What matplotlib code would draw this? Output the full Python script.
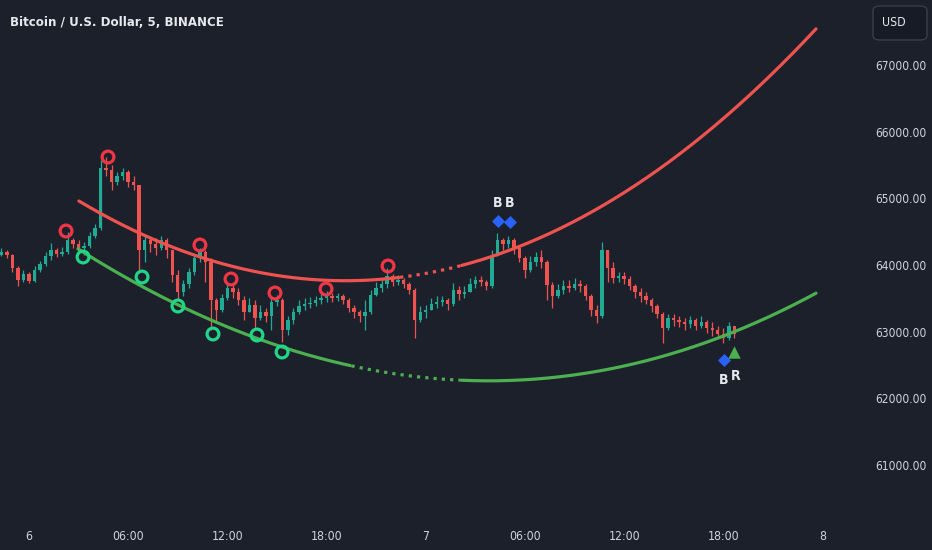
import matplotlib
matplotlib.use("Agg")
import matplotlib.pyplot as plt
from matplotlib import font_manager
from matplotlib.patches import FancyBboxPatch
import numpy as np

# ---------------- data ----------------
bar_start_hour = -5 / 3          # first candle time, hours from day-6 00:00
bar_hours = 20 / 60              # candle interval
first_open = 64150
closes = [64195, 64150, 63955, 63775, 63865, 63760, 63925, 64015, 64135, 64225,
          64165, 64195, 64375, 64315, 64255, 64285, 64435, 64555, 65455, 65425,
          65245, 65335, 65395, 65245, 65200, 64225, 64375, 64315, 64255, 64375,
          64225, 63850, 63595, 63715, 63895, 64105, 64195, 64045, 63475, 63325,
          63505, 63655, 63595, 63475, 63295, 63400, 63205, 63295, 63235, 63445,
          63475, 63025, 63175, 63295, 63385, 63415, 63430, 63475, 63505, 63535,
          63505, 63535, 63475, 63355, 63295, 63235, 63295, 63550, 63655, 63715,
          63835, 63745, 63775, 63715, 63625, 63175, 63295, 63325, 63415, 63445,
          63475, 63415, 63625, 63565, 63595, 63715, 63775, 63745, 63685, 64135,
          64375, 64315, 64375, 64255, 64105, 63925, 64045, 64120, 64045, 63700,
          63535, 63625, 63685, 63655, 63715, 63685, 63535, 63325, 63235, 64225,
          63955, 63805, 63835, 63790, 63685, 63595, 63535, 63475, 63385, 63265,
          63055, 63205, 63175, 63145, 63115, 63175, 63085, 63145, 63055, 63025,
          62965, 62905, 63085, 62965]
highs = [64255, 64225, 64165, 63985, 63925, 63895, 63985, 64060, 64195, 64330,
         64255, 64270, 64495, 64405, 64375, 64345, 64495, 64615, 65575, 65620,
         65500, 65395, 65455, 65425, 65335, 65125, 64435, 64435, 64405, 64435,
         64405, 64225, 63925, 63775, 63955, 64165, 64255, 64225, 64105, 63505,
         63565, 63745, 63715, 63655, 63535, 63505, 63475, 63400, 63355, 63535,
         63550, 63505, 63235, 63355, 63475, 63505, 63520, 63535, 63565, 63610,
         63580, 63580, 63565, 63505, 63400, 63325, 63475, 63625, 63745, 63775,
         63955, 63865, 63850, 63805, 63745, 63655, 63385, 63400, 63505, 63535,
         63535, 63505, 63730, 63685, 63685, 63805, 63835, 63835, 63775, 64225,
         64480, 64405, 64435, 64405, 64285, 64135, 64135, 64195, 64225, 64075,
         63745, 63715, 63775, 63775, 63805, 63775, 63715, 63565, 63400, 64345,
         64195, 64045, 63895, 63895, 63835, 63715, 63655, 63595, 63505, 63415,
         63295, 63265, 63265, 63235, 63205, 63235, 63205, 63235, 63175, 63145,
         63085, 63055, 63145, 63085]
lows = [64135, 64105, 63895, 63685, 63745, 63730, 63745, 63895, 63985, 64075,
        64120, 64135, 64165, 64255, 64195, 64150, 64255, 64405, 64525, 65335,
        65125, 65200, 65275, 65170, 65125, 63880, 64045, 64195, 64150, 64225,
        64105, 63745, 63475, 63535, 63655, 63850, 64045, 63745, 63025, 63145,
        63295, 63475, 63505, 63400, 63175, 63295, 63055, 63175, 63145, 63025,
        63385, 62845, 62950, 63115, 63265, 63325, 63355, 63385, 63415, 63445,
        63445, 63460, 63415, 63295, 63205, 63145, 63025, 63265, 63535, 63595,
        63655, 63685, 63700, 63655, 63565, 62905, 63145, 63205, 63325, 63355,
        63385, 63325, 63385, 63475, 63505, 63595, 63655, 63685, 63625, 63655,
        64195, 64225, 64255, 64165, 64045, 63805, 63895, 63985, 63955, 63475,
        63355, 63505, 63565, 63595, 63625, 63595, 63475, 63235, 63130, 63205,
        63745, 63730, 63745, 63715, 63625, 63505, 63445, 63415, 63295, 63205,
        62830, 63025, 63085, 63070, 63025, 63055, 63025, 63055, 62980, 62935,
        62905, 62830, 62875, 62905]

# upper / lower regression curves (sampled values)
upper_t = [3.02, 6.72, 10.34, 13.79, 17.79, 21.05, 26.07, 28.49, 33.33, 37.14, 47.61]
upper_p = [64960, 64450, 64150, 63925, 63760, 63745, 63955, 64225, 64690, 65275, 67540]
lower_t = [2.96, 6.72, 10.34, 13.79, 15.79, 19.42, 26.07, 32.12, 38.17, 43.62, 47.61]
lower_p = [64195, 63775, 63220, 62950, 62695, 62470, 62260, 62320, 62650, 63100, 63565]
upper_gap = (22.4, 26.1)
lower_gap = (19.5, 26.1)

# pivots
pivot_high_t = [2.24, 4.78, 10.34, 12.22, 14.88, 17.97, 21.72]
pivot_high_p = [64510, 65620, 64300, 63790, 63580, 63640, 63985]
pivot_low_t = [3.27, 6.84, 9.01, 11.13, 13.79, 15.31]
pivot_low_p = [64120, 63820, 63385, 62965, 62950, 62695]

# signals
diamond_t = [28.37, 29.10, 42.05]
diamond_p = [64660, 64645, 62575]
diamond_label_p = [64930, 64930, 62275]
triangle_t = [42.65]
triangle_p = [62695]
triangle_label_t = [42.75]
triangle_label_p = [62335]

yticks = [61000, 62000, 63000, 64000, 65000, 66000, 67000]
xticks = [0, 6, 12, 18, 24, 30, 36, 42, 48]
xticklabels = ["6", "06:00", "12:00", "18:00", "7", "06:00", "12:00", "18:00", "8"]
title = "Bitcoin / U.S. Dollar, 5, BINANCE"

# ---------------- style ----------------
BG = "#1c202b"
TXT = "#d1d4dc"
UP = "#22ab94"
DOWN = "#f0524f"
RED_LINE = "#ef5350"
GREEN_LINE = "#4caf50"

entries = font_manager.fontManager.ttflist
has_narrow = any(f.name == "Liberation Sans Narrow" for f in entries)
has_cond = any(f.name == "DejaVu Sans" and str(f.stretch) in ("condensed", "semi-condensed", "600", "500")
               for f in entries)
if has_narrow:
    plt.rcParams["font.family"] = ["Liberation Sans Narrow", "DejaVu Sans"]
    scale = 1.0
elif has_cond:
    plt.rcParams["font.family"] = ["DejaVu Sans"]
    plt.rcParams["font.stretch"] = "condensed"
    scale = 0.88
else:
    plt.rcParams["font.family"] = ["DejaVu Sans"]
    scale = 0.8

fig = plt.figure(figsize=(9.32, 5.5), dpi=100, facecolor=BG)
ax = fig.add_axes([0, 42 / 550, 860 / 932, 508 / 550])
ax.set_facecolor(BG)
ax.set_xlim(-1.754, 50.27)
ax.set_ylim(60355, 67975)
for s in ax.spines.values():
    s.set_visible(False)

# candles
closes_a = np.array(closes, float)
opens_a = np.concatenate([[first_open], closes_a[:-1]])
highs_a = np.maximum(np.array(highs, float), np.maximum(opens_a, closes_a))
lows_a = np.minimum(np.array(lows, float), np.minimum(opens_a, closes_a))
t = bar_start_hour + np.arange(len(closes_a)) * bar_hours
cols = np.where(closes_a >= opens_a, UP, DOWN)
ax.vlines(t, lows_a, highs_a, colors=cols, linewidth=0.9, zorder=2)
body_h = np.abs(closes_a - opens_a)
body_h = np.maximum(body_h, 8)
ax.bar(t, body_h, bottom=np.minimum(opens_a, closes_a), width=bar_hours * 0.62,
       color=cols, linewidth=0, zorder=3)

# curves
def draw_curve(ts, ps, gap, color):
    coef = np.polyfit(ts, ps, 3)
    xx = np.linspace(ts[0], ts[-1], 600)
    yy = np.polyval(coef, xx)
    m1 = xx <= gap[0]
    m2 = (xx >= gap[0]) & (xx <= gap[1])
    m3 = xx >= gap[1]
    ax.plot(xx[m1], yy[m1], color=color, lw=2.3, solid_capstyle="round", zorder=4)
    ax.plot(xx[m2], yy[m2], color=color, lw=2.3, linestyle=(0, (1, 1.6)), zorder=4)
    ax.plot(xx[m3], yy[m3], color=color, lw=2.3, solid_capstyle="round", zorder=4)

draw_curve(upper_t, upper_p, upper_gap, RED_LINE)
draw_curve(lower_t, lower_p, lower_gap, GREEN_LINE)

# pivots
ax.scatter(pivot_high_t, pivot_high_p, s=72, facecolors="none", edgecolors="#f23645",
           linewidths=2.3, zorder=5)
ax.scatter(pivot_low_t, pivot_low_p, s=72, facecolors="none", edgecolors="#1fd689",
           linewidths=2.3, zorder=5)

# signals
ax.scatter(diamond_t, diamond_p, marker="D", s=44, color="#2962ff", zorder=6, linewidths=0)
ax.scatter(triangle_t, triangle_p, marker="^", s=80, color="#4caf50", zorder=6, linewidths=0)
for tt, pp in zip(diamond_t, diamond_label_p):
    ax.text(tt, pp, "B", color="#e6e8ee", fontsize=11.5 * scale, fontweight="bold",
            ha="center", va="center", zorder=7)
for tt, pp in zip(triangle_label_t, triangle_label_p):
    ax.text(tt, pp, "R", color="#e6e8ee", fontsize=11.5 * scale, fontweight="bold",
            ha="center", va="center", zorder=7)

# axes ticks
ax.yaxis.tick_right()
ax.set_yticks(yticks)
ax.set_yticklabels([f"{v:.2f}" for v in yticks])
ax.tick_params(axis="y", length=0, pad=11, labelsize=9.7 * scale, colors=TXT)
ax.set_xticks(xticks)
ax.set_xticklabels(xticklabels)
ax.tick_params(axis="x", length=0, pad=16, labelsize=10 * scale, colors=TXT)

# title
fig.text(10 / 932, 1 - 22 / 550, title, color="#e6e8ee", fontsize=10.7 * scale,
         fontweight="bold", ha="left", va="center")

# USD box
box = FancyBboxPatch((873 / 932, 1 - 40 / 550), 54 / 932, 34 / 550,
                     boxstyle="round,pad=0,rounding_size=0.008",
                     transform=fig.transFigure, facecolor="#171b26",
                     edgecolor="#3a3e4a", linewidth=1.0)
fig.patches.append(box)
fig.text(882 / 932, 1 - 23 / 550, "USD", color="#e6e8ee", fontsize=10 * scale,
         ha="left", va="center")

fig.savefig("out.png", dpi=100, facecolor=BG)
